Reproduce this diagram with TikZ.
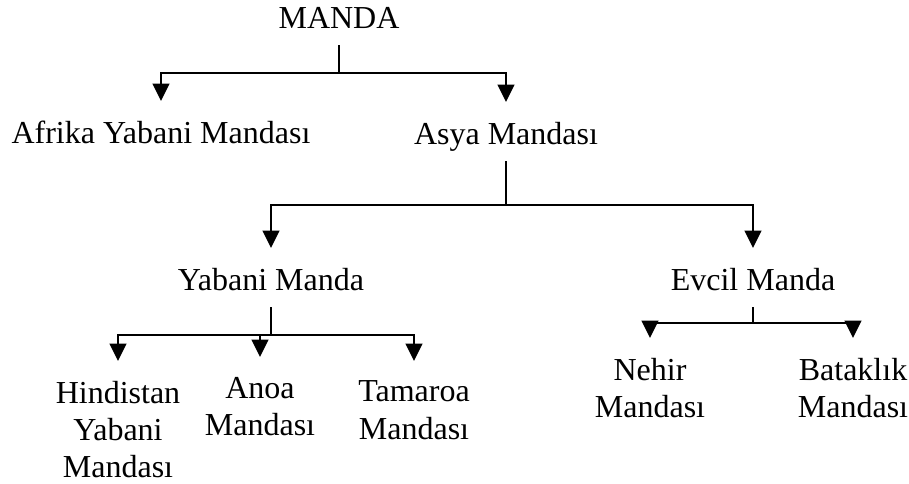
\documentclass[tikz,border=0pt]{standalone}
\usepackage{fontspec}
\setmainfont{Liberation Serif}
\usetikzlibrary{arrows.meta}

\tikzset{every picture/.style={line width=1.5pt}}
\tikzset{
  lbl/.style={anchor=north, inner sep=0pt, outer sep=0pt, text depth=0pt, align=center, font=\fontsize{24}{28}\selectfont},
  stem/.style={shorten <=12.75pt},
  drop/.style={-{Triangle[length=13pt,width=12.5pt]}, shorten >=15pt},
}

\begin{document}
\begin{tikzpicture}[x=0.75pt,y=0.75pt,yscale=-1,xscale=1]
        \useasboundingbox (0,0) rectangle (909,484);

        % Text Node
        \draw (339,7) node [lbl] (manda) {MANDA};
        % Text Node
        \draw (161,121) node [lbl] (afrika) {Afrika Yabani Mandası};
        % Text Node
        \draw (506,122) node [lbl] (asya) {Asya Mandası};
        % Text Node
        \draw (271,268) node [lbl] (yabani) {Yabani Manda};
        % Text Node
        \draw (753,268) node [lbl] (evcil) {Evcil Manda};
        % Text Node
        \draw (118,381) node [lbl] (hindistan) {Hindistan\\Yabani\\Mandası};
        % Text Node
        \draw (260,377) node [lbl] (anoa) {Anoa\\Mandası};
        % Text Node
        \draw (414,381) node [lbl] (tamaroa) {Tamaroa\\Mandası};
        % Text Node
        \draw (650,358) node [lbl] (nehir) {Nehir\\Mandası};
        % Text Node
        \draw (853,358) node [lbl] (bataklik) {Bataklık\\Mandası};

        % branch points
        \coordinate (mandaJ) at (339,73);
        \coordinate (asyaJ) at (506,205);
        \coordinate (yabaniJ) at (271,335);
        \coordinate (evcilJ) at (753,323);

        %Straight Lines
        \draw [stem] (manda.south) -- (mandaJ);
        \draw [drop] (mandaJ) -| (afrika.north);
        \draw [drop] (mandaJ) -| (asya.north);
        %Straight Lines
        \draw [stem] (asya.south) -- (asyaJ);
        \draw [drop] (asyaJ) -| (yabani.north);
        \draw [drop] (asyaJ) -| (evcil.north);
        %Straight Lines
        \draw [stem] (yabani.south) -- (yabaniJ);
        \draw [drop] (yabaniJ) -| (hindistan.north);
        \draw [drop] (yabaniJ) -| (anoa.north);
        \draw [drop] (yabaniJ) -| (tamaroa.north);
        %Straight Lines
        \draw [stem] (evcil.south) -- (evcilJ);
        \draw [drop] (evcilJ) -| (nehir.north);
        \draw [drop] (evcilJ) -| (bataklik.north);

\end{tikzpicture}
\end{document}
